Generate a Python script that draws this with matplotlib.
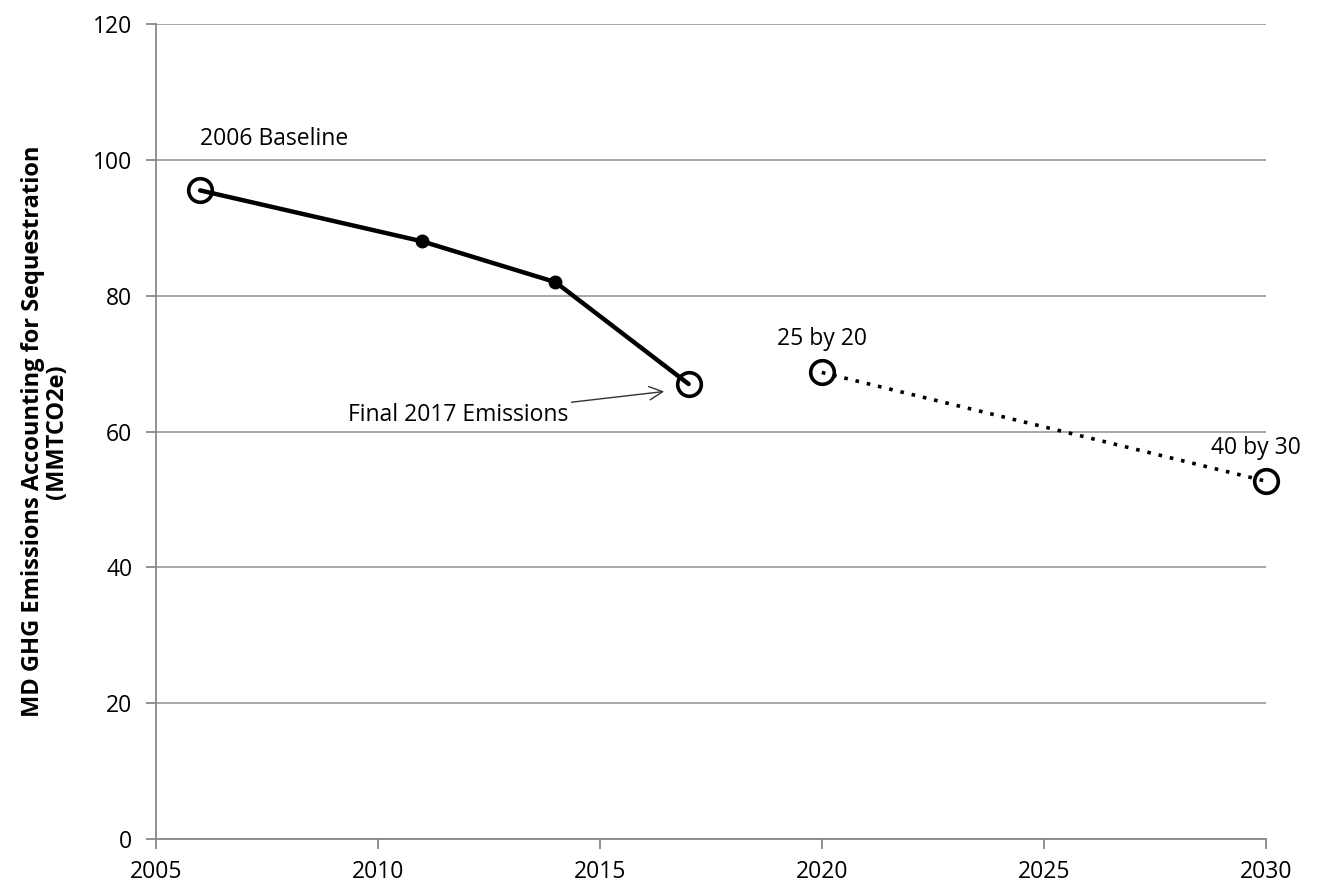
import matplotlib
matplotlib.use("Agg")
import matplotlib.pyplot as plt

plt.rcParams['font.family'] = ['Open Sans', 'DejaVu Sans']

actual_years = [2006, 2011, 2014, 2017]
actual_values = [95.5, 88.0, 82.0, 67.0]
target_years = [2020, 2030]
target_values = [68.7, 52.7]
open_years = [2006, 2017]
open_values = [95.5, 67.0]
x_ticks = [2005, 2010, 2015, 2020, 2025, 2030]
y_ticks = [0, 20, 40, 60, 80, 100, 120]

FS = 16.5

fig = plt.figure(figsize=(13.2, 8.88), dpi=100)
ax = fig.add_axes([0.118, 0.055, 0.841, 0.918])

ax.plot(actual_years, actual_values, color='black', lw=3.2, marker='o', ms=9,
        mfc='black', mec='black', zorder=3, markevery=[1, 2],
        solid_capstyle='round')
ax.plot(target_years, target_values, color='black', lw=2.6, ls=(0, (1, 2.2)),
        zorder=3, clip_on=False)
ax.plot(open_years, open_values, ls='none', marker='o', ms=17, mfc='none',
        mec='black', mew=2.6, zorder=4, clip_on=False)
ax.plot(target_years, target_values, ls='none', marker='o', ms=17, mfc='none',
        mec='black', mew=2.6, zorder=4, clip_on=False)

ax.set_xlim(2005, 2030)
ax.set_ylim(0, 120)
ax.set_xticks(x_ticks)
ax.set_yticks(y_ticks)
ax.tick_params(axis='both', labelsize=FS, colors='#888888', labelcolor='black',
               length=7, width=1.3, direction='out')
ax.tick_params(axis='x', pad=8)
ax.tick_params(axis='y', pad=10)
ax.yaxis.grid(True, color='#a0a0a0', lw=1.3)
ax.set_axisbelow(True)
for s in ['top', 'right']:
    ax.spines[s].set_visible(False)
for s in ['left', 'bottom']:
    ax.spines[s].set_color('#888888')
    ax.spines[s].set_linewidth(1.3)

ax.set_ylabel('MD GHG Emissions Accounting for Sequestration\n(MMTCO2e)',
              fontsize=17, fontweight='bold', labelpad=17, linespacing=1.0)

ax.annotate('2006 Baseline', xy=(2006, actual_values[0]), xytext=(0, 37),
            textcoords='offset points', fontsize=FS, ha='left', va='center')
ax.annotate('25 by 20', xy=(2020, target_values[0]), xytext=(0, 24),
            textcoords='offset points', fontsize=FS, ha='center', va='center')
ax.annotate('40 by 30', xy=(2030, target_values[1]), xytext=(-7, 24),
            textcoords='offset points', fontsize=FS, ha='center', va='center')
ax.annotate('Final 2017 Emissions', xy=(2016.45, 65.9), xytext=(2014.3, 62.4),
            fontsize=FS, ha='right', va='center',
            arrowprops=dict(arrowstyle='->', color='#333333', lw=1.0,
                            mutation_scale=24, shrinkA=0, shrinkB=0))

fig.savefig('out.png', dpi=100)
